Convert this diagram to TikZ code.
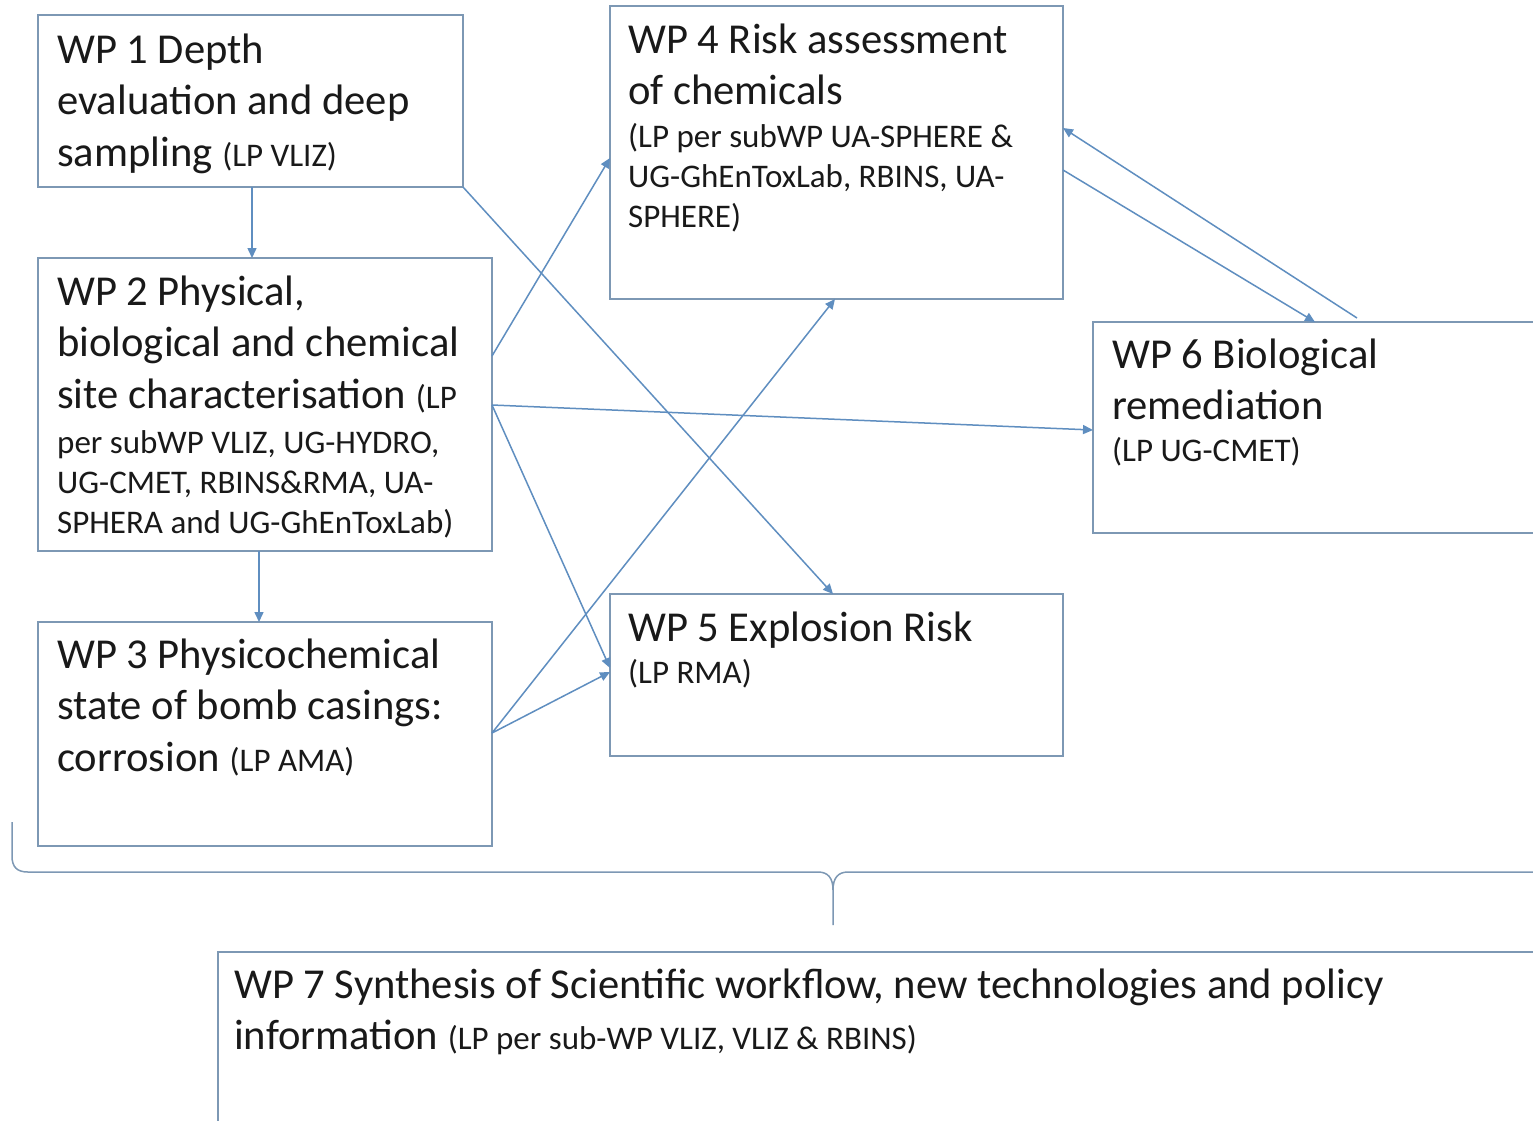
\documentclass[tikz,border=0pt]{standalone}
\usepackage{fontspec}
\setmainfont{Carlito}
\usetikzlibrary{arrows.meta}
\definecolor{boxc}{RGB}{125,152,180}
\definecolor{arrc}{RGB}{95,142,192}
\definecolor{txtc}{RGB}{25,25,25}
\newcommand\wpbig{\fontsize{42.6}{51.5}\selectfont\spaceskip=0.226em plus 0.02em\relax}
\newcommand\wpsmall{\fontsize{33}{40}\selectfont\spaceskip=0.226em plus 0.02em\relax}
\newcommand\firstl{\rule{0pt}{34pt}}
\begin{document}
\begin{tikzpicture}[x=1pt,y=-1pt,
  box/.style={draw=boxc, line width=1.5pt, inner sep=0pt, outer sep=0pt, anchor=north west},
  wptext/.style={anchor=north west, inner sep=0pt, text width=1600pt, align=left, text=txtc},
  conn/.style={draw=arrc, line width=1.5pt, -{Triangle[length=10pt,width=9pt]}}]
\useasboundingbox[fill=white] (0,0) rectangle (1533,1120);
\clip (0,0) rectangle (1533,1120);

% boxes
\node[box, minimum width=425pt, minimum height=172pt] (wp1) at (38,15) {};
\node[box, minimum width=454pt, minimum height=293pt] (wp2) at (38,258) {};
\node[box, minimum width=454pt, minimum height=224pt] (wp3) at (38,622) {};
\node[box, minimum width=453pt, minimum height=293pt] (wp4) at (610,6) {};
\node[box, minimum width=453pt, minimum height=162pt] (wp5) at (610,594) {};
\node[box, minimum width=500pt, minimum height=211pt] (wp6) at (1093,322) {};
\node[box, minimum width=1400pt, minimum height=250pt] (wp7) at (218,952) {};

% texts
\node[wptext] (t1) at (57,29) {{\wpbig\firstl WP 1 Depth\\ evaluation and deep\\ sampling {\wpsmall(LP VLIZ)}\par}};
\node[wptext] (t2) at (57,271) {{\wpbig\firstl WP 2 Physical,\\ biological and chemical\\ site characterisation {\wpsmall(LP}\par}\vskip 5pt{\wpsmall per subWP VLIZ, UG-HYDRO,\\ UG-CMET, RBINS\&RMA, UA-\\ SPHERA and UG-GhEnToxLab)\par}};
\node[wptext] (t3) at (57,634) {{\wpbig\firstl WP 3 Physicochemical\\ state of bomb casings:\\ corrosion {\wpsmall(LP AMA)}\par}};
\node[wptext] (t4) at (628,19) {{\wpbig\firstl WP 4 Risk assessment\\ of chemicals\par}\vskip 3pt{\wpsmall (LP per subWP UA-SPHERE \&\\ UG-GhEnToxLab, RBINS, UA-\\ SPHERE)\par}};
\node[wptext] (t5) at (628,607) {{\wpbig\firstl WP 5 Explosion Risk\par}\vskip 2pt{\wpsmall (LP RMA)\par}};
\node[wptext] (t6) at (1112,334) {{\wpbig\firstl WP 6 Biological\\ remediation\par}\vskip 2pt{\wpsmall (LP UG-CMET)\par}};
\node[wptext] (t7) at (234,964) {{\wpbig\firstl WP 7 Synthesis of Scientific workflow, new technologies and policy\\ information {\wpsmall(LP per sub-WP VLIZ, VLIZ \& RBINS)}\par}};

% connectors
\draw[conn] ([xshift=214pt]wp1.south west) -- ([xshift=214pt]wp2.north west);
\draw[conn] (wp1.south east) -- ([xshift=223pt]wp5.north west);
\draw[conn] ([yshift=-98pt]wp2.north east) -- ([yshift=-152pt]wp4.north west);
\draw[conn] ([yshift=-147pt]wp2.north east) -- ([yshift=-108pt]wp6.north west);
\draw[conn] ([yshift=-147pt]wp2.north east) -- ([yshift=-74pt]wp5.north west);
\draw[conn] ([xshift=221pt]wp2.south west) -- ([xshift=221pt]wp3.north west);
\draw[conn] ([yshift=-111pt]wp3.north east) -- ([xshift=225pt]wp4.south west);
\draw[conn] ([yshift=-111pt]wp3.north east) -- ([yshift=-78pt]wp5.north west);
\draw[conn] ([yshift=-164pt]wp4.north east) -- ([xshift=222pt]wp6.north west);
\draw[conn] ([xshift=264pt,yshift=4pt]wp6.north west) -- ([yshift=-122pt]wp4.north east);

% brace
\draw[boxc, line width=1.5pt] (12,822) -- (12,856)
  .. controls (12,867) and (17,872) .. (28,872) -- (818,872)
  .. controls (828,872) and (833,878) .. (833,890) -- (833,925);
\draw[boxc, line width=1.5pt] (833,890) .. controls (833,878) and (838,872) .. (848,872) -- (1545,872);
\end{tikzpicture}
\end{document}
